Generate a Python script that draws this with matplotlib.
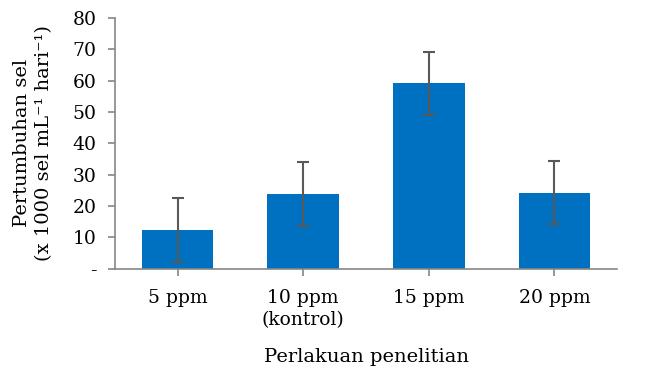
import matplotlib.pyplot as plt

plt.rcParams['font.family'] = ['DejaVu Serif']

# data
perlakuan = ['5 ppm', '10 ppm\n(kontrol)', '15 ppm', '20 ppm']
pertumbuhan = [12.2, 23.7, 59.2, 24.3]
galat = [10.2, 10.2, 10.1, 10.2]
y_ticks = [0, 10, 20, 30, 40, 50, 60, 70, 80]
y_labels = ['-', '10', '20', '30', '40', '50', '60', '70', '80']

fig = plt.figure(figsize=(6.45, 3.7), dpi=100)
ax = fig.add_axes([0.178, 0.274, 0.779, 0.677])

x = range(len(perlakuan))
ax.bar(x, pertumbuhan, width=0.57, color='#0070C0', zorder=2)
ax.errorbar(x, pertumbuhan, yerr=galat, fmt='none', ecolor='#595959',
            elinewidth=1.5, capsize=4.3, capthick=1.5, zorder=3)

ax.set_xlim(-0.5, 3.5)
ax.set_ylim(0, 80)
ax.set_yticks(y_ticks)
ax.set_yticklabels(y_labels)
ax.set_xticks(list(x))
ax.set_xticklabels(perlakuan, linespacing=1.25)

for s in ['top', 'right']:
    ax.spines[s].set_visible(False)
for s in ['left', 'bottom']:
    ax.spines[s].set_color('#868686')
    ax.spines[s].set_linewidth(1.2)
ax.tick_params(axis='both', colors='#868686', length=5, width=1.2,
               labelsize=13.5, labelcolor='black')
ax.tick_params(axis='y', pad=8)
ax.tick_params(axis='x', pad=10)

ax.set_ylabel('Pertumbuhan sel\n(x 1000 sel mL⁻¹ hari⁻¹)',
              fontsize=14, linespacing=1.3, labelpad=14)
ax.set_xlabel('Perlakuan penelitian', fontsize=14, labelpad=14)

fig.savefig('out.png', dpi=100)
